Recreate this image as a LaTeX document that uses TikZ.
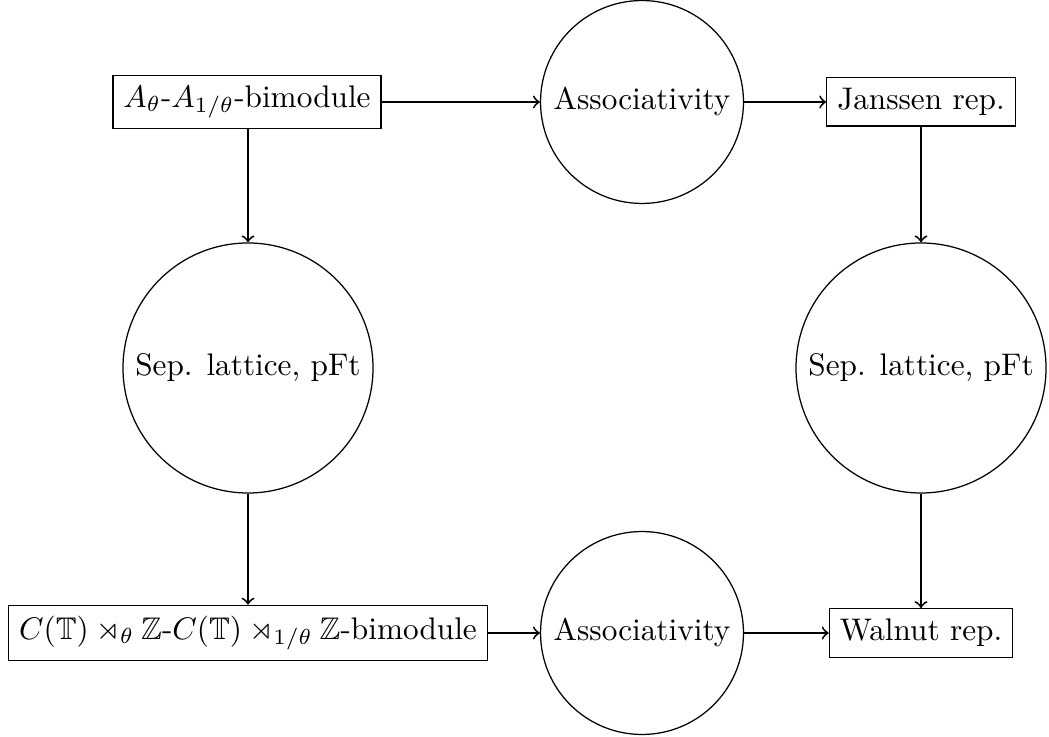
\documentclass[tikz,border=0pt]{standalone}
\usepackage{amssymb}
\begin{document}
\begin{tikzpicture}[x=0.32pt,y=-0.32pt,
  box/.style={draw,rectangle},
  circ/.style={draw,circle},
  arr/.style={->,semithick}]
\useasboundingbox (0,0) rectangle (1049,737);
\node[box] (ab) at (247,102) {$A_\theta$-$A_{1/\theta}$-bimodule};
\node[circ] (as1) at (642,102) {Associativity};
\node[box] (jr) at (921,102) {Janssen rep.};
\node[circ] (sl1) at (248,368) {Sep. lattice, pFt};
\node[circ] (sl2) at (921,368) {Sep. lattice, pFt};
\node[box] (cb) at (248,633) {$C(\mathbb{T}) \rtimes_\theta \mathbb{Z}$-$C(\mathbb{T}) \rtimes_{1/\theta} \mathbb{Z}$-bimodule};
\node[circ] (as2) at (642,633) {Associativity};
\node[box] (wr) at (921,633) {Walnut rep.};
\draw[arr] (ab) -- (as1);
\draw[arr] (as1) -- (jr);
\draw[arr] (sl1.north |- ab.south) -- (sl1.north);
\draw[arr] (sl1) -- (cb);
\draw[arr] (cb) -- (as2);
\draw[arr] (as2) -- (wr);
\draw[arr] (jr) -- (sl2);
\draw[arr] (sl2) -- (wr);
\end{tikzpicture}
\end{document}
